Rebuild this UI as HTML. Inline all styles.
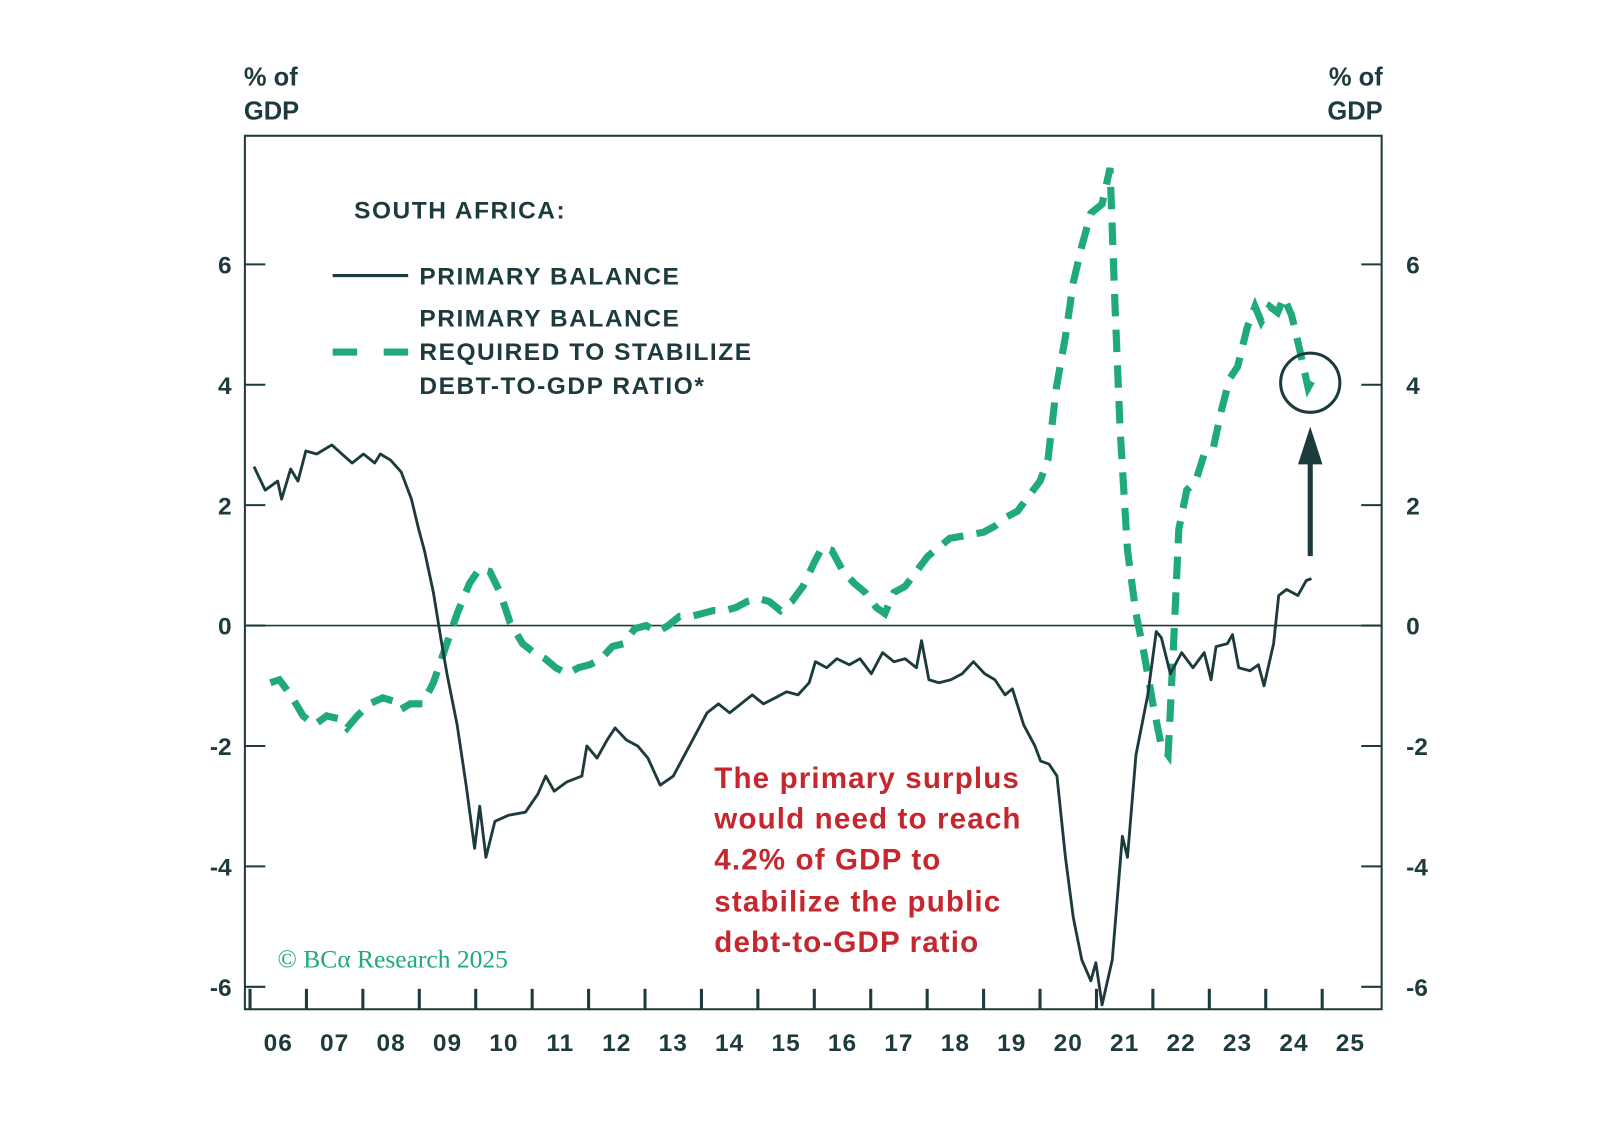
<!DOCTYPE html>
<html><head><meta charset="utf-8"><style>
html,body{margin:0;padding:0;background:#fff;width:1598px;height:1144px;overflow:hidden}
svg{display:block}
text{font-family:"Liberation Sans",sans-serif}
</style></head><body>
<svg id="chart" width="1598" height="1144" viewBox="0 0 1566 1121" xmlns="http://www.w3.org/2000/svg">
<rect width="1566" height="1121" fill="#fff"/>
<g id="axes"></g>
<g id="series"></g>
<g fill="#1d3b3d" font-size="24" font-weight="bold" letter-spacing="1.5">
<text x="347" y="214">SOUTH AFRICA:</text>
<line x1="326" y1="270" x2="400" y2="270" stroke="#1d3b3d" stroke-width="3"/>
<text x="411" y="279">PRIMARY BALANCE</text>
<line x1="326" y1="345" x2="400" y2="345" stroke="#1fa97c" stroke-width="7" stroke-dasharray="24,26"/>
<text x="411" y="320">PRIMARY BALANCE</text>
<text x="411" y="353">REQUIRED TO STABILIZE</text>
<text x="411" y="386">DEBT-TO-GDP RATIO*</text>
</g>
<g fill="#c4282e" font-size="29" font-weight="bold" letter-spacing="1.1">
<text x="700" y="772">The primary surplus</text>
<text x="700" y="812">would need to reach</text>
<text x="700" y="852">4.2% of GDP to</text>
<text x="700" y="893">stabilize the public</text>
<text x="700" y="933">debt-to-GDP ratio</text>
</g>
<text x="272" y="948" fill="#1fa97c" font-size="25" style="font-family:'Liberation Serif',serif">© BCα Research 2025</text>
<circle cx="1284" cy="375" r="29" fill="none" stroke="#1d3b3d" stroke-width="3"/>
<line x1="1284" y1="545" x2="1284" y2="445" stroke="#1d3b3d" stroke-width="5"/>
<polygon points="1284,418 1272,455 1296,455" fill="#1d3b3d"/>
</svg>
<script>
const primaryOffset=[0.07,0.27,0.49,0.56,0.72,0.85,0.99,1.18,1.45,1.63,1.81,2.01,2.21,2.31,2.49,2.68,2.86,2.99,3.09,3.25,3.38,3.49,3.67,3.83,3.98,4.07,4.18,4.34,4.58,4.88,5.10,5.24,5.39,5.61,5.88,5.97,6.15,6.33,6.47,6.67,6.87,7.05,7.27,7.50,7.70,7.90,8.10,8.30,8.50,8.70,8.90,9.10,9.31,9.51,9.71,9.91,10.02,10.22,10.40,10.62,10.81,11.01,11.21,11.41,11.61,11.81,11.90,12.03,12.21,12.42,12.62,12.82,13.02,13.20,13.38,13.51,13.71,13.91,14.01,14.16,14.30,14.45,14.59,14.74,14.90,14.99,15.10,15.28,15.46,15.55,15.70,15.91,16.06,16.15,16.31,16.51,16.71,16.91,17.03,17.12,17.32,17.41,17.52,17.72,17.87,17.97,18.14,18.23,18.37,18.57,18.72,18.81];
const primaryV=[2.64,2.25,2.4,2.1,2.6,2.4,2.9,2.85,3.0,2.85,2.7,2.85,2.7,2.85,2.75,2.55,2.1,1.6,1.25,0.55,-0.2,-0.8,-1.65,-2.65,-3.7,-3.0,-3.85,-3.25,-3.15,-3.1,-2.8,-2.5,-2.75,-2.6,-2.5,-2.0,-2.2,-1.9,-1.7,-1.9,-2.0,-2.2,-2.65,-2.5,-2.15,-1.8,-1.45,-1.3,-1.45,-1.3,-1.15,-1.3,-1.2,-1.1,-1.15,-0.95,-0.6,-0.7,-0.55,-0.65,-0.55,-0.8,-0.45,-0.6,-0.55,-0.7,-0.25,-0.9,-0.95,-0.9,-0.8,-0.6,-0.8,-0.9,-1.15,-1.05,-1.65,-2.0,-2.25,-2.3,-2.5,-3.85,-4.85,-5.55,-5.9,-5.6,-6.3,-5.55,-3.5,-3.85,-2.15,-1.15,-0.1,-0.2,-0.8,-0.45,-0.7,-0.45,-0.9,-0.35,-0.3,-0.15,-0.7,-0.75,-0.65,-1.0,-0.3,0.5,0.6,0.5,0.75,0.78];
const requiredOffset=[0.36,0.52,0.72,0.94,1.14,1.36,1.59,1.72,1.90,2.12,2.35,2.53,2.66,2.84,3.06,3.25,3.47,3.67,3.89,4.07,4.25,4.43,4.61,4.83,5.03,5.23,5.42,5.62,5.82,6.02,6.22,6.42,6.62,6.82,7.02,7.22,7.41,7.61,7.81,8.01,8.21,8.41,8.61,8.81,9.01,9.20,9.40,9.60,9.80,10.00,10.14,10.31,10.51,10.71,10.90,11.10,11.25,11.41,11.61,11.81,12.01,12.21,12.40,12.71,13.00,13.20,13.40,13.60,13.80,14.00,14.14,14.29,14.45,14.59,14.74,14.90,15.10,15.24,15.33,15.42,15.55,15.70,15.84,16.00,16.15,16.27,16.36,16.46,16.60,16.76,16.91,17.07,17.22,17.36,17.50,17.67,17.81,17.92,18.07,18.21,18.32,18.46,18.61,18.75,18.90];
const requiredV=[-0.95,-0.9,-1.15,-1.5,-1.65,-1.5,-1.55,-1.7,-1.5,-1.3,-1.2,-1.25,-1.4,-1.3,-1.3,-0.95,-0.35,0.2,0.7,0.95,0.9,0.55,0.05,-0.3,-0.45,-0.55,-0.7,-0.8,-0.7,-0.65,-0.55,-0.35,-0.3,-0.05,0,-0.1,0,0.15,0.15,0.2,0.25,0.25,0.3,0.4,0.45,0.4,0.25,0.4,0.65,1.05,1.3,1.25,0.9,0.7,0.55,0.3,0.2,0.55,0.65,0.9,1.15,1.3,1.45,1.5,1.55,1.65,1.8,1.9,2.15,2.4,2.75,3.95,4.8,5.7,6.3,6.85,7.0,7.6,5.3,3.25,1.25,0.2,-0.45,-1.3,-2.0,-2.15,-0.45,1.6,2.25,2.4,2.85,2.95,3.6,4.1,4.3,4.95,5.3,5.05,5.3,5.2,5.45,5.15,4.55,3.95,4.2];
const yTicks=[-6,-4,-2,0,2,4,6];
const xYears=[2006,2007,2008,2009,2010,2011,2012,2013,2014,2015,2016,2017,2018,2019,2020,2021,2022,2023,2024,2025];
const xLabels=["06","07","08","09","10","11","12","13","14","15","16","17","18","19","20","21","22","23","24","25"];

const NS="http://www.w3.org/2000/svg";
const L=240,R=1354,T=133,B=989,C="#1d3b3d";
const X=t=>245+(t-2006)*55.3;
const Y=v=>613-v*59;
function mk(tag,attrs,parent,txt){const e=document.createElementNS(NS,tag);for(const k in attrs)e.setAttribute(k,attrs[k]);if(txt!=null)e.textContent=txt;parent.appendChild(e);return e;}
const ax=document.getElementById('axes');
let e=mk('rect',{x:L,y:T,width:R-L,height:B-T,fill:'none',stroke:C,'stroke-width':2},ax);


e=mk('line',{x1:L,x2:R,y1:Y(0),y2:Y(0),stroke:C,'stroke-width':1.5},ax);


yTicks.forEach(v=>{
  mk('line',{x1:L,x2:L+20,y1:Y(v),y2:Y(v),stroke:C,'stroke-width':2},ax);
  mk('line',{x1:R-20,x2:R,y1:Y(v),y2:Y(v),stroke:C,'stroke-width':2},ax);
  e=mk('text',{x:227,y:Y(v)+9,'text-anchor':'end','font-size':24,'font-weight':'bold',fill:C},ax,String(v));
  
  
  e=mk('text',{x:1378,y:Y(v)+9,'font-size':24,'font-weight':'bold',fill:C},ax,String(v));
  
  
});
xYears.forEach((yr,i)=>{
  mk('line',{x1:X(yr),x2:X(yr),y1:B,y2:B-20,stroke:C,'stroke-width':3},ax);
  e=mk('text',{x:X(yr+0.5),y:1030,'text-anchor':'middle','font-size':24,'font-weight':'bold','letter-spacing':1,fill:C},ax,xLabels[i]);
  
  
});
[[239,'start'],[1355,'end']].forEach(([x,a])=>{
  e=mk('text',{x:x,y:84,'text-anchor':a,'font-size':25,'font-weight':'bold',fill:C},ax,'% of');
  
  
  mk('text',{x:x,y:117,'text-anchor':a,'font-size':25,'font-weight':'bold',fill:C},ax,'GDP');
});
const se=document.getElementById('series');
const pts=(os,vs)=>os.map((o,i)=>X(2006+o).toFixed(1)+','+Y(vs[i]).toFixed(1)).join(' ');
e=mk('polyline',{points:pts(requiredOffset,requiredV),fill:'none',stroke:'#1fa97c','stroke-width':7,'stroke-dasharray':'22,13'},se);


e=mk('polyline',{points:pts(primaryOffset,primaryV),fill:'none',stroke:C,'stroke-width':2.8,'stroke-linejoin':'round'},se);


</script>
</body></html>
